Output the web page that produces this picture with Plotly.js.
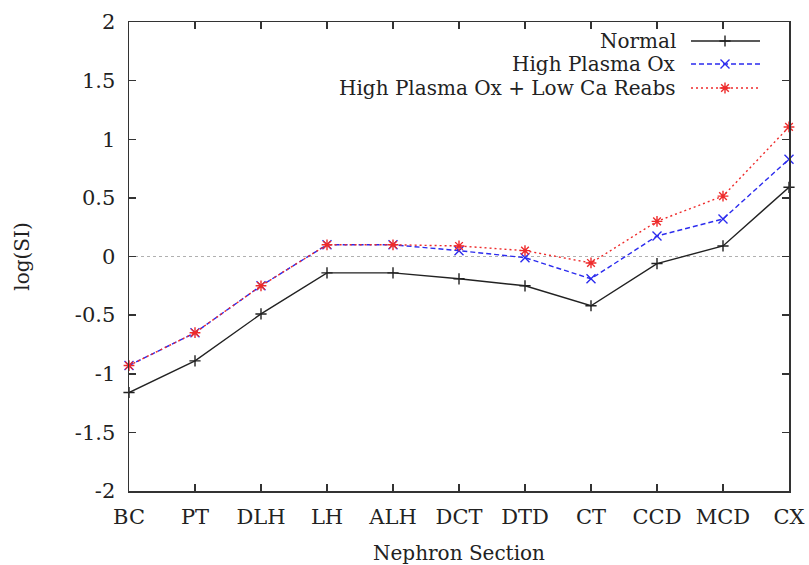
<!DOCTYPE html>
<html>
<head>
<meta charset="utf-8">
<script src="https://cdn.plot.ly/plotly-3.0.1.min.js"></script>
<style>html,body{margin:0;padding:0;background:#fff;}#chart{width:809px;height:565px;}</style>
</head>
<body>
<div id="chart"></div>
<script>
const sections = ['BC','PT','DLH','LH','ALH','DCT','DTD','CT','CCD','MCD','CX'];
const normal = [-1.16,-0.89,-0.49,-0.14,-0.14,-0.19,-0.25,-0.42,-0.06,0.09,0.59];
const highOx = [-0.93,-0.65,-0.25,0.10,0.10,0.05,-0.01,-0.19,0.175,0.32,0.83];
const highOxLowCa = [-0.93,-0.65,-0.25,0.10,0.10,0.09,0.05,-0.055,0.30,0.515,1.105];
const seriesNames = ['Normal','High Plasma Ox','High Plasma Ox + Low Ca Reabs'];
const yTickVals = [-2,-1.5,-1,-0.5,0,0.5,1,1.5,2];
const yTickText = ['-2','-1.5','-1','-0.5','0','0.5','1','1.5','2'];

const font = 'DejaVu Serif, serif';
const styles = [
  {color:'#222222', dash:'solid', symbol:'cross-thin-open', size:8},
  {color:'#2b2bee', dash:'5px,3px', symbol:'x-thin-open', size:9},
  {color:'#ee2b2b', dash:'2px,3px', symbol:'asterisk-open', size:9}
];
const data = [normal, highOx, highOxLowCa];
const traces = data.map((ys,i)=>({
  x: sections, y: ys, type:'scatter', mode:'lines+markers', name: seriesNames[i],
  line:{color:styles[i].color, width:1.4, dash:styles[i].dash},
  marker:{symbol:styles[i].symbol, size:styles[i].size, color:styles[i].color, line:{color:styles[i].color, width:1.4}},
  cliponaxis:false, showlegend:false, xaxis:'x', yaxis:'y'
}));

// custom gnuplot-style legend (sample on right of text), in an overlay pixel-like axis
const legY = [450, 427, 403];
const annotations = [];
seriesNames.forEach((n,i)=>{
  traces.push({x:[562,631], y:[legY[i],legY[i]], xaxis:'x2', yaxis:'y2', type:'scatter', mode:'lines',
    line:{color:styles[i].color,width:1.4,dash:styles[i].dash}, showlegend:false, hoverinfo:'skip'});
  traces.push({x:[596], y:[legY[i]], xaxis:'x2', yaxis:'y2', type:'scatter', mode:'markers',
    marker:{symbol:styles[i].symbol,size:styles[i].size,color:styles[i].color,line:{color:styles[i].color,width:1.4}},
    showlegend:false, hoverinfo:'skip', cliponaxis:false});
  annotations.push({xref:'x2', yref:'y2', x:549, y:legY[i], text:n, showarrow:false, xanchor:'right', yanchor:'middle',
    font:{family:font, size:20, color:'#222'}});
});

const layout = {
  width:809, height:565,
  margin:{l:129, r:20, t:22, b:74},
  paper_bgcolor:'#fff', plot_bgcolor:'#fff',
  font:{family:font, size:21, color:'#222'},
  showlegend:false,
  xaxis:{type:'category', range:[0,10], showgrid:false, zeroline:false, automargin:false,
    showline:true, mirror:'ticks', linecolor:'#333', linewidth:1.5,
    ticks:'inside', ticklen:7, tickwidth:1.5, tickcolor:'#333', ticklabelstandoff:6,
    tickfont:{family:font,size:21,color:'#222'},
    title:{text:'Nephron Section', font:{family:font,size:20,color:'#222'}, standoff:22}},
  yaxis:{range:[-2,2], tickvals:yTickVals, ticktext:yTickText, showgrid:false, zeroline:false, automargin:false,
    showline:true, mirror:'ticks', linecolor:'#333', linewidth:1.5,
    ticks:'inside', ticklen:7, tickwidth:1.5, tickcolor:'#333', ticklabelstandoff:8,
    tickfont:{family:font,size:21,color:'#222'},
    title:{text:'log(SI)', font:{family:font,size:20,color:'#222'}, standoff:40}},
  xaxis2:{overlaying:'x', range:[0,660], visible:false, fixedrange:true},
  yaxis2:{overlaying:'y', range:[0,469], visible:false, fixedrange:true},
  shapes:[{type:'line', xref:'paper', yref:'y', x0:0, x1:1, y0:0, y1:0,
    line:{color:'#b0b0b0', width:1, dash:'dot'}, layer:'below'}],
  annotations: annotations
};
Plotly.newPlot('chart', traces, layout, {displayModeBar:false, staticPlot:true});
</script>
</body>
</html>
